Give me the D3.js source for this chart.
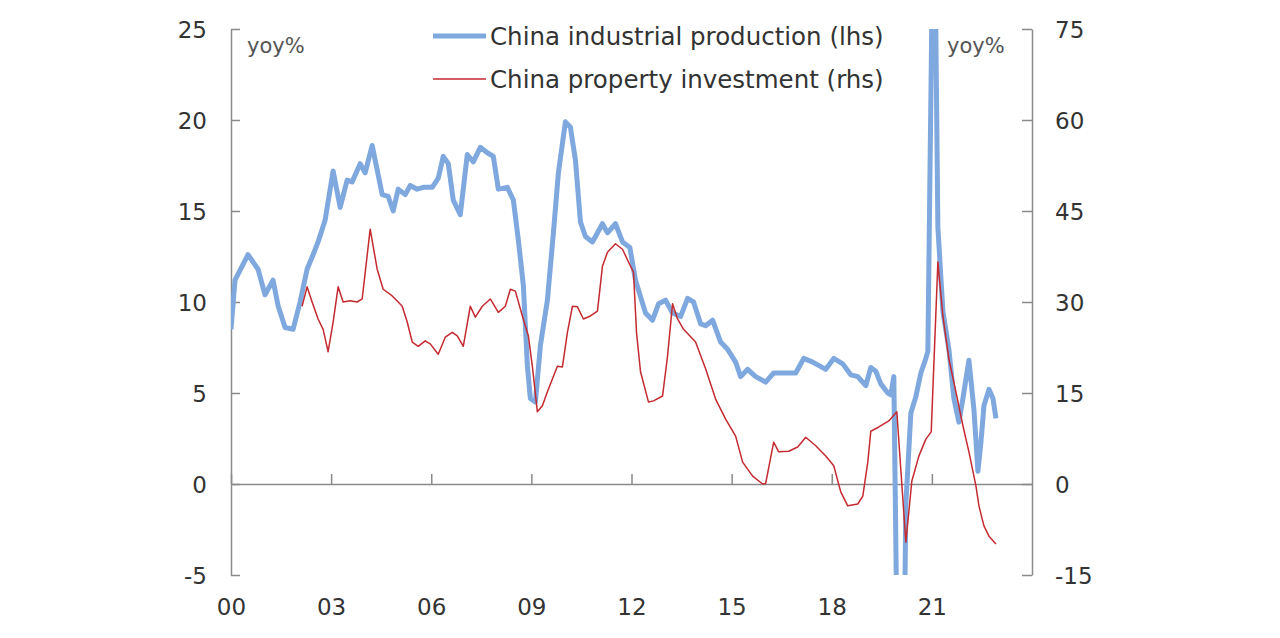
<!DOCTYPE html>
<html>
<head>
<meta charset="utf-8">
<script src="https://cdn.jsdelivr.net/npm/d3@7"></script>
<style>
  body { margin: 0; background: #fff; }
  svg { display: block; }
  .tick text { font-family: "DejaVu Sans", Verdana, sans-serif; font-size: 23px; fill: #333; }
</style>
</head>
<body>
<div id="chart"></div>
<script>
// China industrial production, yoy% (lhs) - decimal year, value
const ipDates = [2000.00, 2000.12, 2000.51, 2000.81, 2001.02, 2001.26, 2001.41, 2001.62, 2001.86, 2002.07,
  2002.28, 2002.46, 2002.61, 2002.82, 2003.06, 2003.27, 2003.48, 2003.63, 2003.87, 2004.02,
  2004.23, 2004.53, 2004.71, 2004.86, 2005.01, 2005.22, 2005.37, 2005.58, 2005.76, 2006.03,
  2006.21, 2006.36, 2006.51, 2006.66, 2006.87, 2007.08, 2007.26, 2007.47, 2007.68, 2007.86,
  2008.01, 2008.28, 2008.46, 2008.61, 2008.76, 2008.88, 2008.97, 2009.12, 2009.27, 2009.48,
  2009.66, 2009.81, 2010.02, 2010.17, 2010.32, 2010.47, 2010.62, 2010.83, 2011.13, 2011.28,
  2011.52, 2011.73, 2011.95, 2012.12, 2012.42, 2012.63, 2012.81, 2013.02, 2013.23, 2013.47,
  2013.68, 2013.86, 2014.07, 2014.22, 2014.43, 2014.67, 2014.88, 2015.12, 2015.27, 2015.48,
  2015.72, 2016.02, 2016.26, 2016.62, 2016.92, 2017.16, 2017.43, 2017.82, 2018.06, 2018.33,
  2018.57, 2018.78, 2019.02, 2019.17, 2019.32, 2019.47, 2019.68, 2019.77, 2019.86, 2020.07,
  2020.22, 2020.37, 2020.52, 2020.67, 2020.82, 2020.88, 2021.06, 2021.18, 2021.33, 2021.51,
  2021.66, 2021.81, 2021.93, 2022.11, 2022.26, 2022.38, 2022.47, 2022.56, 2022.71, 2022.83,
  2022.92];
const ipValues = [8.5, 11.2, 12.6, 11.8, 10.4, 11.2, 9.8, 8.6, 8.5, 10.0,
  11.8, 12.6, 13.3, 14.5, 17.2, 15.2, 16.7, 16.6, 17.6, 17.1,
  18.6, 15.9, 15.8, 15.0, 16.2, 15.9, 16.4, 16.2, 16.3, 16.3,
  16.8, 18.0, 17.6, 15.6, 14.8, 18.1, 17.7, 18.5, 18.2, 18.0,
  16.2, 16.3, 15.6, 13.4, 10.9, 6.5, 4.7, 4.5, 7.6, 10.1,
  13.8, 17.1, 19.9, 19.6, 17.8, 14.4, 13.6, 13.3, 14.3, 13.8,
  14.3, 13.3, 13.0, 11.2, 9.4, 9.0, 9.9, 10.1, 9.4, 9.2,
  10.2, 10.0, 8.8, 8.7, 9.0, 7.8, 7.4, 6.7, 5.9, 6.3,
  5.9, 5.6, 6.1, 6.1, 6.1, 6.9, 6.7, 6.3, 6.9, 6.6,
  6.0, 5.9, 5.4, 6.4, 6.2, 5.5, 5.0, 4.9, 5.9, -25.9,
  -1.1, 3.9, 4.8, 6.1, 6.9, 7.3, 35.1, 14.1, 9.5, 7.4,
  4.7, 3.4, 4.7, 6.8, 4.1, 0.7, 2.3, 4.3, 5.2, 4.7,
  3.6];

// China property investment, yoy% (rhs)
const piDates = [2002.13, 2002.28, 2002.43, 2002.61, 2002.76, 2002.91, 2003.06, 2003.21, 2003.36, 2003.57,
  2003.78, 2003.93, 2004.17, 2004.38, 2004.56, 2004.83, 2005.01, 2005.13, 2005.28, 2005.43,
  2005.61, 2005.82, 2005.97, 2006.21, 2006.42, 2006.63, 2006.78, 2006.96, 2007.17, 2007.32,
  2007.53, 2007.77, 2008.01, 2008.22, 2008.37, 2008.52, 2008.73, 2008.91, 2009.03, 2009.18,
  2009.33, 2009.48, 2009.63, 2009.78, 2009.93, 2010.08, 2010.23, 2010.38, 2010.56, 2010.77,
  2010.98, 2011.13, 2011.28, 2011.52, 2011.73, 2011.91, 2012.06, 2012.15, 2012.27, 2012.51,
  2012.66, 2012.93, 2013.08, 2013.23, 2013.38, 2013.56, 2013.92, 2014.22, 2014.52, 2014.82,
  2015.12, 2015.33, 2015.63, 2015.93, 2016.02, 2016.26, 2016.41, 2016.71, 2016.98, 2017.22,
  2017.52, 2017.82, 2018.06, 2018.27, 2018.48, 2018.78, 2018.93, 2019.08, 2019.17, 2019.41,
  2019.71, 2019.95, 2020.22, 2020.40, 2020.61, 2020.82, 2020.98, 2021.18, 2021.33, 2021.51,
  2021.72, 2021.93, 2022.11, 2022.32, 2022.41, 2022.56, 2022.71, 2022.92];
const piValues = [29.3, 32.5, 30.0, 27.2, 25.5, 21.8, 26.7, 32.5, 30.0, 30.2,
  30.0, 30.5, 42.0, 35.4, 32.1, 31.0, 30.0, 29.3, 26.7, 23.4,
  22.7, 23.6, 23.1, 21.4, 24.2, 25.0, 24.4, 22.7, 29.3, 27.5,
  29.3, 30.5, 28.3, 29.3, 32.1, 31.8, 27.7, 24.4, 19.4, 11.9,
  12.9, 15.2, 17.3, 19.4, 19.3, 25.0, 29.3, 29.2, 27.2, 27.7,
  28.5, 35.9, 38.2, 39.6, 38.7, 36.6, 34.9, 25.0, 18.5, 13.5,
  13.7, 14.5, 21.1, 29.7, 27.2, 25.5, 23.4, 19.0, 14.0, 10.7,
  7.9, 3.6, 1.3, 0.0, 0.1, 6.9, 5.3, 5.4, 6.1, 7.7,
  6.3, 4.6, 3.0, -1.3, -3.6, -3.3, -2.0, 3.6, 8.7, 9.4,
  10.4, 11.9, -9.6, 0.5, 4.6, 7.4, 8.6, 36.6, 27.7, 20.6,
  15.2, 9.6, 5.3, -0.3, -3.6, -6.9, -8.6, -9.9];

const leftTicks = [-5, 0, 5, 10, 15, 20, 25];
const rightTicks = [-15, 0, 15, 30, 45, 60, 75];
const xTicks = [2000, 2003, 2006, 2009, 2012, 2015, 2018, 2021];
const xTickLabels = ['00', '03', '06', '09', '12', '15', '18', '21'];
const seriesNames = ['China industrial production (lhs)', 'China property investment (rhs)'];

const width = 1280;
const height = 638;
const plot = {left: 231, right: 1032, top: 29, bottom: 575};
const blue = '#7ea8de';
const red = '#c42a30';
const axisColor = '#8a8a8a';

const x = d3.scaleLinear().domain([2000, 2024]).range([plot.left, plot.right]);
const yL = d3.scaleLinear().domain([-5, 25]).range([plot.bottom, plot.top]);
const yR = d3.scaleLinear().domain([-15, 75]).range([plot.bottom, plot.top]);

const svg = d3.select('#chart').append('svg').attr('width', width).attr('height', height);

svg.append('clipPath').attr('id', 'plotClip')
  .append('rect')
  .attr('x', plot.left).attr('y', plot.top)
  .attr('width', plot.right - plot.left).attr('height', plot.bottom - plot.top);

// axes (plain hyphen for negatives, like the original)
let leftAxis = svg.append('g')
  .attr('transform', 'translate(' + plot.left + ',0)')
  .call(d3.axisLeft(yL).tickValues(leftTicks).tickSize(-9).tickSizeOuter(0).tickPadding(24)
    .tickFormat(d => String(d)));

let rightAxis = svg.append('g')
  .attr('transform', 'translate(' + plot.right + ',0)')
  .call(d3.axisRight(yR).tickValues(rightTicks).tickSize(-10).tickSizeOuter(0).tickPadding(23)
    .tickFormat(d => String(d)));

let bottomAxis = svg.append('g')
  .attr('transform', 'translate(0,' + yL(0) + ')')
  .call(d3.axisBottom(x).tickValues(xTicks).tickSize(-10).tickSizeOuter(0).tickPadding(115)
    .tickFormat((d, i) => xTickLabels[i]));

[leftAxis, rightAxis, bottomAxis].forEach(function (g) {
  g.selectAll('path, line').attr('stroke', axisColor).attr('stroke-width', 1.5);
  g.selectAll('text').attr('font-family', null).attr('font-size', null);
});
leftAxis.selectAll('.tick text').attr('dy', '0.36em');
rightAxis.selectAll('.tick text').attr('dy', '0.36em');

// lines
const ipData = d3.zip(ipDates, ipValues);
const piData = d3.zip(piDates, piValues);

let lineL = d3.line().x(d => x(d[0])).y(d => yL(d[1]));
let lineR = d3.line().x(d => x(d[0])).y(d => yR(d[1]));

svg.append('path')
  .datum(ipData)
  .attr('clip-path', 'url(#plotClip)')
  .attr('d', lineL)
  .attr('fill', 'none')
  .attr('stroke', blue)
  .attr('stroke-width', 5)
  .attr('stroke-linejoin', 'round');

svg.append('path')
  .datum(piData)
  .attr('d', lineR)
  .attr('fill', 'none')
  .attr('stroke', red)
  .attr('stroke-width', 1.5)
  .attr('stroke-linejoin', 'round');

// unit labels
const labelFont = '"DejaVu Sans", Verdana, sans-serif';
[247, 947].forEach(function (lx) {
  svg.append('text')
    .attr('x', lx).attr('y', 53)
    .attr('font-family', labelFont).attr('font-size', 21)
    .attr('fill', '#555')
    .text('yoy%');
});

// legend
let legend = svg.append('g');
[[blue, 5, 36, 45], [red, 1.5, 79, 88]].forEach(function (s, i) {
  legend.append('line')
    .attr('x1', 433).attr('x2', 486)
    .attr('y1', s[2]).attr('y2', s[2])
    .attr('stroke', s[0]).attr('stroke-width', s[1]);
  legend.append('text')
    .attr('x', 490).attr('y', s[3])
    .attr('font-family', labelFont).attr('font-size', 24.5)
    .attr('fill', '#333')
    .text(seriesNames[i]);
});
</script>
</body>
</html>
